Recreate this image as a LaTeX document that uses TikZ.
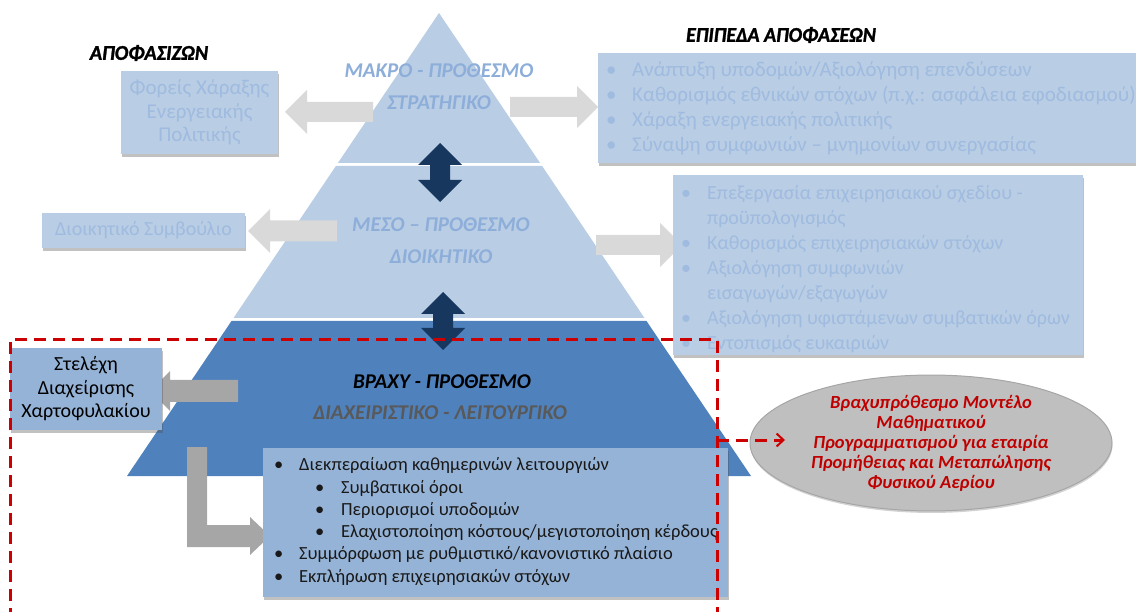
\documentclass[tikz,border=0pt]{standalone}
\usepackage{fontspec}
\setmainfont{Carlito}
\newfontfamily\headfont[FakeBold=1.5]{Carlito}
\usetikzlibrary{shapes.geometric,shadows,arrows.meta}

\definecolor{paleblue}{HTML}{B9CDE5}
\definecolor{paletext}{HTML}{9FBBDF}
\definecolor{labelblue}{HTML}{8EAEDA}
\definecolor{tierblue}{HTML}{4F81BD}
\definecolor{midblue}{HTML}{95B3D7}
\definecolor{navy}{HTML}{17375E}
\definecolor{lightgrey}{HTML}{D9D9D9}
\definecolor{darkgrey}{HTML}{A6A6A6}
\definecolor{dashred}{HTML}{CC0000}
\definecolor{ovalgrey}{HTML}{BFBFBF}
\definecolor{ovaltext}{HTML}{C00000}
\definecolor{labelgrey}{HTML}{595959}

\newcommand\fs[2]{\fontsize{#1}{#2}\selectfont}
\newcommand\lbul[1]{\makebox[#1][l]{•}}

% horizontal block arrow: colour, shaft end, head base, tip, centre y, shaft half-height, head half-height
\newcommand\hblock[7]{%
  \fill[#1] (#2,#5-#6) -- (#3,#5-#6) -- (#3,#5-#7) -- (#4,#5) -- (#3,#5+#7)
    -- (#3,#5+#6) -- (#2,#5+#6) -- cycle;}
% vertical double-headed block arrow: centre x, top tip, bottom tip
\newcommand\vdouble[3]{%
  \fill[navy] (#1-10,#2+22) -- (#1-22,#2+22) -- (#1,#2) -- (#1+22,#2+22) -- (#1+10,#2+22)
    -- (#1+10,#3-22) -- (#1+22,#3-22) -- (#1,#3) -- (#1-22,#3-22) -- (#1-10,#3-22) -- cycle;}

\tikzset{
  boxshadow/.style={drop shadow={shadow xshift=0.5pt, shadow yshift=-3pt, opacity=0.35, fill=black!70}},
  lightbox/.style={fill=paleblue, draw=none, inner sep=0pt, boxshadow},
  midbox/.style={fill=midblue, draw=none, inner sep=0pt, boxshadow},
  listtext/.style={inner sep=0pt, anchor=north west, align=left},
  tierlabel/.style={align=center, font=\fs{21}{32}\bfseries\itshape},
  heading/.style={font=\headfont\fs{21}{24}\bfseries\itshape, text=black},
  dashbox/.style={draw=dashred, line width=3pt, dash pattern=on 12pt off 7pt},
}

\begin{document}
\begin{tikzpicture}[x=1pt,y=-1pt]
\useasboundingbox (0,0) rectangle (1136,612);

% pyramid tiers
\fill[paleblue] (439,13) -- (540.1,163) -- (337.9,163) -- cycle;
\fill[paleblue] (335.9,166) -- (542.1,166) -- (644.5,318) -- (233.5,318) -- cycle;
\fill[tierblue] (231.5,321) -- (646.5,321) -- (751,476) -- (127,476) -- cycle;

% tier labels
\node[tierlabel, text=labelblue] (macro) at (439,87) {ΜΑΚΡΟ - ΠΡΟΘΕΣΜΟ\\ΣΤΡΑΤΗΓΙΚΟ};
\node[tierlabel, text=labelblue] (meso) at (441,241) {ΜΕΣΟ – ΠΡΟΘΕΣΜΟ\\ΔΙΟΙΚΗΤΙΚΟ};
\node[tierlabel, text=black] (vrachy) at (442,382) {ΒΡΑΧΥ - ΠΡΟΘΕΣΜΟ};
\node[tierlabel, text=labelgrey] (vrachy2) at (440,413) {ΔΙΑΧΕΙΡΙΣΤΙΚΟ - ΛΕΙΤΟΥΡΓΙΚΟ};

% links between tiers
\vdouble{440}{143}{202}
\vdouble{443}{292}{350}

% block arrows towards the side boxes
\hblock{lightgrey}{373}{307}{285}{112}{10}{22}
\hblock{lightgrey}{510}{577}{598}{107}{10}{21}
\hblock{lightgrey}{337}{270}{248}{231}{10.5}{22}
\hblock{lightgrey}{596}{660}{682}{245}{10}{22}
\hblock{darkgrey}{238}{170}{150}{391}{11}{20}
\fill[darkgrey] (187,447) -- (207,447) -- (207,525) -- (250,525) -- (250,517) -- (270,536)
  -- (250,555) -- (250,547) -- (187,547) -- cycle;

% headings
\node[heading] (who) at (149,53) {\scalebox{0.96}[1]{ΑΠΟΦΑΣΙΖΩΝ}};
\node[heading] (levels) at (781,35) {\scalebox{0.95}[1]{ΕΠΙΠΕΔΑ ΑΠΟΦΑΣΕΩΝ}};

% decision makers
\node[lightbox, minimum width=157pt, minimum height=83pt, text=paletext, align=center,
  font=\fs{21}{23.5}] (policy) at (199.5,112.5) {Φορείς Χάραξης\\Ενεργειακής\\Πολιτικής};
\node[lightbox, minimum width=203pt, minimum height=35pt, text=paletext,
  font=\fs{20}{23.5}] (board) at (143.5,230.5) {Διοικητικό Συμβούλιο};
\node[midbox, minimum width=152pt, minimum height=82pt, text=black, align=center,
  font=\fs{20}{23.5}] (managers) at (86,389) {Στελέχη\\Διαχείρισης\\Χαρτοφυλακίου};

% decision levels
\node[lightbox, minimum width=545pt, minimum height=110pt, anchor=north west] (stratbox) at (598,53) {};
\node[listtext, text=paletext, font=\fs{21}{25}] (stratlist) at (606,61.5) {%
  \lbul{26pt}Ανάπτυξη υποδομών/Αξιολόγηση επενδύσεων\\
  \lbul{26pt}Καθορισμός εθνικών στόχων (π.χ.: ασφάλεια εφοδιασμού)\\
  \lbul{26pt}Χάραξη ενεργειακής πολιτικής\\
  \lbul{26pt}Σύναψη συμφωνιών – μνημονίων συνεργασίας};

\node[lightbox, minimum width=410pt, minimum height=180pt, anchor=north west] (adminbox) at (673,175) {};
\node[listtext, text=paletext, font=\fs{20}{25}] (adminlist) at (681,185) {%
  \lbul{26pt}Επεξεργασία επιχειρησιακού σχεδίου -\\
  \hspace*{26pt}προϋπολογισμός\\
  \lbul{26pt}Καθορισμός επιχειρησιακών στόχων\\
  \lbul{26pt}Αξιολόγηση συμφωνιών\\
  \hspace*{26pt}εισαγωγών/εξαγωγών\\
  \lbul{26pt}Αξιολόγηση υφιστάμενων συμβατικών όρων\\
  \lbul{26pt}Εντοπισμός ευκαιριών};

\node[midbox, minimum width=465pt, minimum height=149pt, anchor=north west] (opbox) at (263,448) {};
\node[listtext, text=black!90, font=\fs{18.5}{22.3}] (oplist) at (274,457.5) {%
  \lbul{25pt}Διεκπεραίωση καθημερινών λειτουργιών\\
  \hspace*{41pt}\lbul{26pt}Συμβατικοί όροι\\
  \hspace*{41pt}\lbul{26pt}Περιορισμοί υποδομών\\
  \hspace*{41pt}\lbul{26pt}Ελαχιστοποίηση κόστους/μεγιστοποίηση κέρδους\\
  \lbul{25pt}Συμμόρφωση με ρυθμιστικό/κανονιστικό πλαίσιο\\
  \lbul{25pt}Εκπλήρωση επιχειρησιακών στόχων};

% short-term model
\node[ellipse, fill=ovalgrey, draw=darkgrey, line width=1pt, minimum width=362pt, minimum height=116pt,
  inner sep=0pt, text=ovaltext, align=center, font=\fs{18.5}{20}\bfseries\itshape,
  drop shadow={shadow xshift=0.5pt, shadow yshift=-2pt, opacity=0.25, fill=black!70}] (model) at (931,443)
  {Βραχυπρόθεσμο Μοντέλο\\Μαθηματικού\\Προγραμματισμού για εταιρία\\Προμήθειας και Μεταπώλησης\\Φυσικού Αερίου};

% highlighted short-term scope
\draw[dashbox] (10,620) -- (10,340) -- (717,340) -- (717,620);
\coordinate (scope) at (717,440);
\coordinate (modelin) at (785,440);
\draw[dashbox, -{Straight Barb[length=7pt,width=13pt,line width=2pt]}] (scope) -- (modelin);

\end{tikzpicture}
\end{document}
